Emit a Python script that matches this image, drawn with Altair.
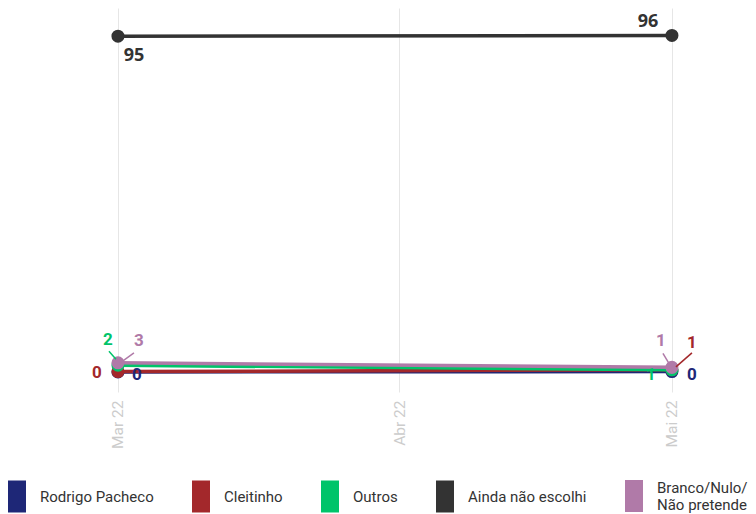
import altair as alt
import pandas as pd

# ---- data ----
dates = ["2022-03-01", "2022-05-01"]
series = ["Rodrigo Pacheco", "Cleitinho", "Outros", "Ainda não escolhi", "Branco/Nulo/Não pretende"]
pacheco = [0.0, 0.1]
cleitinho = [0.1, 0.6]
outros = [1.9, 0.6]
ainda = [95.4, 95.6]
branco = [2.6, 1.3]
month_names = ["Jan", "Fev", "Mar", "Abr", "Mai", "Jun", "Jul", "Ago", "Set", "Out", "Nov", "Dez"]

colors = ["#1e2777", "#a3282b", "#00c46a", "#333333", "#b07aa8"]

values = [pacheco, cleitinho, outros, ainda, branco]
rows = []
for s, vals in zip(series, values):
    for i, (d, v) in enumerate(zip(dates, vals)):
        rows.append({"series": s, "date": d, "idx": i, "value": v})
df = pd.DataFrame(rows)

# ---- label placement (styling) ----
label_offsets = {
    ("Rodrigo Pacheco", 0): (19, 3), ("Rodrigo Pacheco", 1): (20, 3),
    ("Cleitinho", 0): (-21, 1), ("Cleitinho", 1): (20, -27),
    ("Outros", 0): (-10, -25), ("Outros", 1): (-21, 5),
    ("Ainda não escolhi", 0): (16, 20), ("Ainda não escolhi", 1): (-24, -13),
    ("Branco/Nulo/Não pretende", 0): (21, -22), ("Branco/Nulo/Não pretende", 1): (-11, -26),
}
leaders = {
    ("Outros", 0): (-2, -6, -9, -14),
    ("Branco/Nulo/Não pretende", 0): (5, -2, 16, -10),
    ("Branco/Nulo/Não pretende", 1): (-3, -4, -9, -14),
    ("Cleitinho", 1): (4, -3, 20, -17),
}

x_domain = [alt.DateTime(year=2022, month=2, date=16, hours=21, minutes=24, utc=True),
            alt.DateTime(year=2022, month=5, date=9, hours=9, utc=True)]
tick_vals = [alt.DateTime(year=2022, month=m, date=1, utc=True) for m in (3, 4, 5)]
month_js = "[" + ",".join("'%s'" % m for m in month_names) + "]"

X = alt.X("date:T", title=None,
          scale=alt.Scale(type="utc", domain=x_domain),
          axis=alt.Axis(values=tick_vals,
                        labelExpr=month_js + "[utcmonth(datum.value)] + ' ' + utcFormat(datum.value, '%y')",
                        labelAngle=-90, labelColor="#cccccc", labelFont="Roboto", labelFontSize=15.5,
                        labelPadding=8, grid=True, gridColor="#e6e6e6", gridWidth=1,
                        domain=False, ticks=False))
Y = alt.Y("value:Q", title=None, axis=None,
          scale=alt.Scale(domain=[-5.7, 103.4], nice=False, zero=False))

two_line = series[4]
rect_path = "M-1,-1 L0.125,-1 L0.125,1 L-1,1 Z"
legend = alt.Legend(title=None, orient="none", legendX=0, legendY=472, direction="horizontal",
                    columns=5, symbolType=rect_path, symbolSize=1024, symbolStrokeWidth=0,
                    symbolOpacity=1, labelFont="Roboto", labelFontSize=15, labelColor="#333333",
                    labelLimit=300, labelOffset=0, columnPadding=38,
                    labelExpr="datum.label == '%s' ? ['Branco/Nulo/', 'Não pretende'] : datum.label" % two_line)
C = alt.Color("series:N", scale=alt.Scale(domain=series, range=colors), legend=legend)

base = alt.Chart(df)
layers = []
for s in series:
    layers.append(
        base.transform_filter(alt.datum.series == s)
        .mark_line(strokeWidth=3.5, point=alt.OverlayMarkDef(size=170, filled=True, opacity=1))
        .encode(x=X, y=Y, color=C)
    )

for (s, i), (x1, y1, x2, y2) in leaders.items():
    col = colors[series.index(s)]
    layers.append(
        base.transform_filter((alt.datum.series == s) & (alt.datum.idx == i))
        .mark_rule(strokeWidth=1.5, color=col, xOffset=x1, yOffset=y1, x2Offset=x2, y2Offset=y2)
        .encode(x=X, y=Y, x2="date:T", y2="value:Q")
    )

for (s, i), (dx, dy) in label_offsets.items():
    col = colors[series.index(s)]
    big = s == "Ainda não escolhi"
    layers.append(
        base.transform_filter((alt.datum.series == s) & (alt.datum.idx == i))
        .mark_text(dx=dx, dy=dy, align="center", baseline="middle", fontWeight="bold",
                   font="Open Sans" if big else "Roboto", fontSize=18 if big else 17, color=col)
        .encode(x=X, y=Y, text=alt.Text("value:Q", format=".0f"))
    )

# shift the two-line legend label up so that its block is centred on the swatch
patch = [{"op": "add", "path": "/legends/0/encode/labels/update/dy",
          "value": {"signal": "datum.value == '%s' ? -8 : 0" % two_line}}]

chart = alt.layer(*layers).properties(
    width=740, height=384,
    autosize=alt.AutoSizeParams(type="none"),
    padding={"left": 0, "top": 0, "right": 0, "bottom": 122},
    usermeta={"embedOptions": {"patch": patch}},
).configure_view(stroke=None)

chart.save("out.html", embed_options={"renderer": "svg", "actions": False})
